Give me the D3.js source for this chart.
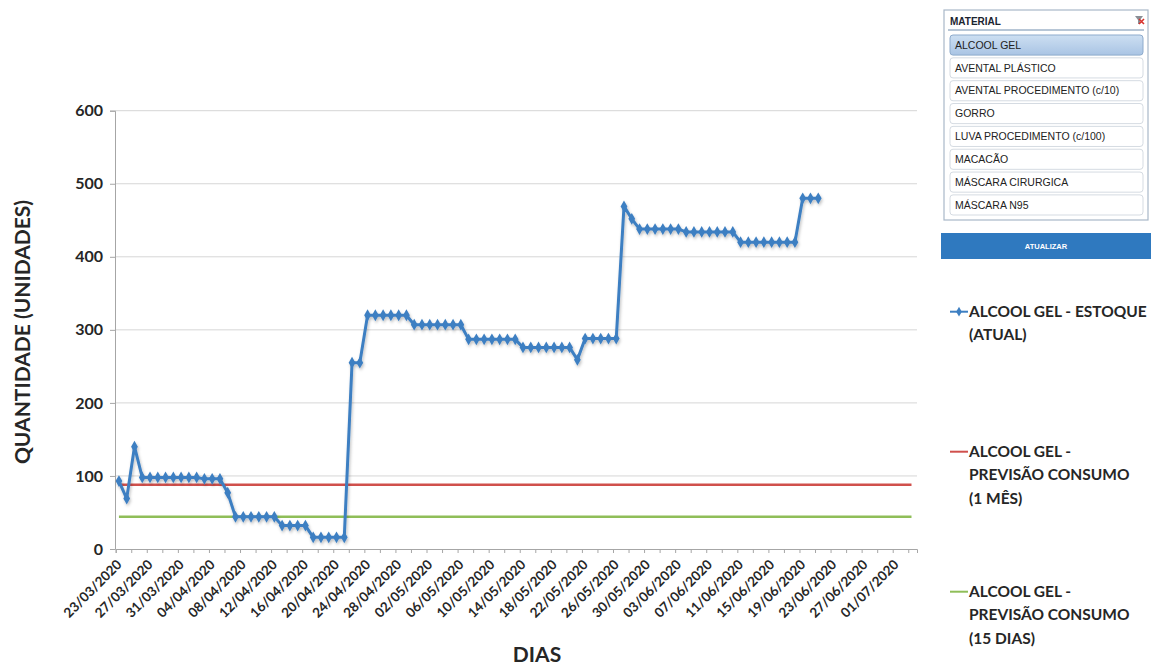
<!DOCTYPE html>
<html><head><meta charset="utf-8">
<script src="https://cdn.jsdelivr.net/npm/d3@7"></script>
<style>
body{margin:0;background:#fff;}
svg{display:block;}
</style></head><body>
<svg id="chart" width="1151" height="668"></svg>
<script>
// ---------- DATA ----------
const startDate = "23/03/2020";
const estoqueAtual = [93,69,140,98,98,98,98,98,98,98,98,96,96,96,77,
  44,44,44,44,44,44,32,32,32,32,16,16,16,16,16,
  255,255,320,320,320,320,320,320,307,307,307,307,307,307,307,
  287,287,287,287,287,287,287,276,276,276,276,276,276,276,259,
  288,288,288,288,288,469,452,438,438,438,438,438,438,
  434,434,434,434,434,434,434,420,420,420,420,420,420,420,420,480,480,480];
const previsaoMes = 88;
const previsao15 = 44;
const previsaoDias = 102;
const xTickLabels = ["23/03/2020","27/03/2020","31/03/2020","04/04/2020","08/04/2020","12/04/2020",
  "16/04/2020","20/04/2020","24/04/2020","28/04/2020","02/05/2020","06/05/2020","10/05/2020",
  "14/05/2020","18/05/2020","22/05/2020","26/05/2020","30/05/2020","03/06/2020","07/06/2020",
  "11/06/2020","15/06/2020","19/06/2020","23/06/2020","27/06/2020","01/07/2020"];
const yTicks = [0,100,200,300,400,500,600];
const materiais = ["ALCOOL GEL","AVENTAL PLÁSTICO","AVENTAL PROCEDIMENTO (c/10)","GORRO",
  "LUVA PROCEDIMENTO (c/100)","MACACÃO","MÁSCARA CIRURGICA","MÁSCARA N95"];
const seriesNames = [
  ["ALCOOL GEL - ESTOQUE","(ATUAL)"],
  ["ALCOOL GEL -","PREVISÃO CONSUMO","(1 MÊS)"],
  ["ALCOOL GEL -","PREVISÃO CONSUMO","(15 DIAS)"]
];
const colors = {estoque:"#3d7fc2", mes:"#d0504c", quinze:"#8fbe58"};

// ---------- SETUP ----------
const parse = d3.timeParse("%d/%m/%Y");
const t0 = parse(startDate);
const svg = d3.select("#chart");
const FONT = "Lato, 'Open Sans', sans-serif";

const defs = svg.append("defs");
const f = defs.append("filter").attr("id","sh").attr("x","-5%").attr("y","-5%").attr("width","110%").attr("height","115%");
f.append("feDropShadow").attr("dx",1).attr("dy",2).attr("stdDeviation",1.4).attr("flood-color","#000").attr("flood-opacity",0.25);
const g1 = defs.append("linearGradient").attr("id","sel").attr("x1",0).attr("y1",0).attr("x2",0).attr("y2",1);
g1.append("stop").attr("offset","0%").attr("stop-color","#cddff2");
g1.append("stop").attr("offset","100%").attr("stop-color","#a9c4e4");

const x = d3.scaleTime()
  .domain([t0, d3.timeHour.offset(t0, 103*24+3)])
  .range([115.7, 917]);
const y = d3.scaleLinear().domain([0,600]).range([549,110.7]);

// gridlines
svg.append("g").selectAll("line").data(yTicks.filter(v=>v>0)).join("line")
  .attr("x1",115).attr("x2",917).attr("y1",d=>y(d)).attr("y2",d=>y(d))
  .attr("stroke","#d6d6d6").attr("stroke-width",1);

// y axis
const yAxis = svg.append("g").attr("transform","translate(115,0)")
  .call(d3.axisLeft(y).tickValues(yTicks).tickSize(5).tickPadding(7));
yAxis.select(".domain").attr("stroke","#a6a6a6");
yAxis.selectAll(".tick line").attr("stroke","#a6a6a6");
yAxis.selectAll("text").attr("font-family",FONT).attr("font-weight","bold")
  .attr("font-size","16px").attr("fill","#262626");

// x axis minor ticks
const minorDates = d3.range(0, 103, 2).map(i=>d3.timeDay.offset(t0,i));
const xAxis = svg.append("g").attr("transform","translate(0,549)")
  .call(d3.axisBottom(x).tickValues(minorDates).tickSize(4).tickFormat(""));
xAxis.select(".domain").attr("stroke","#a6a6a6");
xAxis.selectAll(".tick line").attr("stroke","#a6a6a6");

// x labels
const labelDates = xTickLabels.map(parse);
const xLab = svg.append("g").attr("transform","translate(0,549)")
  .call(d3.axisBottom(x).tickValues(labelDates).tickSize(0).tickFormat((d,i)=>xTickLabels[i]));
xLab.select(".domain").remove();
xLab.selectAll("text")
  .attr("font-family",FONT).attr("font-weight","bold").attr("font-size","13.5px").attr("fill","#262626")
  .attr("text-anchor","end").attr("x",0).attr("y",0).attr("dy","0.35em")
  .attr("transform","translate(3,13) rotate(-45)");

// threshold lines
const lineFull = d3.line().x(d=>x(d.date)).y(d=>y(d.v));
const spanDates = [0, previsaoDias].map(i=>d3.timeHour.offset(d3.timeDay.offset(t0,i),10));
svg.append("path").datum(spanDates.map(dt=>({date:dt,v:previsaoMes})))
  .attr("d",lineFull).attr("stroke",colors.mes).attr("stroke-width",2.5).attr("fill","none");
svg.append("path").datum(spanDates.map(dt=>({date:dt,v:previsao15})))
  .attr("d",lineFull).attr("stroke",colors.quinze).attr("stroke-width",2.5).attr("fill","none");

// estoque line
const est = estoqueAtual.map((v,i)=>({date:d3.timeHour.offset(d3.timeDay.offset(t0,i),10), v}));
const gEst = svg.append("g").attr("filter","url(#sh)");
gEst.append("path").datum(est).attr("d",lineFull).attr("stroke",colors.estoque)
  .attr("stroke-width",3).attr("fill","none").attr("stroke-linejoin","round");
gEst.selectAll("path.m").data(est).join("path").attr("class","m")
  .attr("d",d3.symbol(d3.symbolDiamond,40))
  .attr("transform",d=>`translate(${x(d.date)},${y(d.v)})`)
  .attr("fill",colors.estoque);

// axis titles
svg.append("text").attr("transform","translate(30,332) rotate(-90)")
  .attr("text-anchor","middle").attr("font-family",FONT).attr("font-weight","bold")
  .attr("font-size","21px").attr("fill","#262626").text("QUANTIDADE (UNIDADES)");
svg.append("text").attr("x",537).attr("y",662)
  .attr("text-anchor","middle").attr("font-family",FONT).attr("font-weight","bold")
  .attr("font-size","21px").attr("fill","#262626").text("DIAS");

// legend
const legY = [311.7, 451.7, 591.7];
const legCol = [colors.estoque, colors.mes, colors.quinze];
const leg = svg.append("g");
seriesNames.forEach((lines,k)=>{
  leg.append("line").attr("x1",950).attr("x2",968).attr("y1",legY[k]).attr("y2",legY[k])
    .attr("stroke",legCol[k]).attr("stroke-width",2);
  if(k===0) leg.append("path").attr("d",d3.symbol(d3.symbolDiamond,28))
    .attr("transform",`translate(959,${legY[k]})`).attr("fill",legCol[k]);
  const t = leg.append("text").attr("font-family",FONT).attr("font-weight","bold")
    .attr("font-size","15.5px").attr("fill","#262626");
  lines.forEach((s,j)=>{
    t.append("tspan").attr("x",969).attr("y",legY[k]+j*23.3).attr("dy","0.35em").text(s);
  });
});

// slicer
const sl = svg.append("g");
sl.append("rect").attr("x",944).attr("y",10).attr("width",204).attr("height",210)
  .attr("fill","#fff").attr("stroke","#a9b8c8").attr("stroke-width",1.2);
sl.append("text").attr("x",950).attr("y",21).attr("dy","0.35em")
  .attr("font-family","'Liberation Sans', Arial, sans-serif").attr("font-weight","bold")
  .attr("font-size","10px").attr("fill","#1b2430").text("MATERIAL");
sl.append("line").attr("x1",948).attr("x2",1144).attr("y1",30).attr("y2",30)
  .attr("stroke","#9fb3c8").attr("stroke-width",1.5);
// filter icon
sl.append("path").attr("d","M1135,16 L1143,16 L1140,20 L1140,24 L1138,24 L1138,20 Z").attr("fill","#8a8f96");
sl.append("path").attr("d","M1139,19 L1144,24 M1144,19 L1139,24").attr("stroke","#d8322c").attr("stroke-width",1.6);
const rowY = d3.scaleBand().domain(materiais).range([35,215]).paddingInner(0.12).paddingOuter(0);
materiais.forEach((m,i)=>{
  sl.append("rect").attr("x",950).attr("y",rowY(m)).attr("width",193).attr("height",rowY.bandwidth())
    .attr("rx",3).attr("fill",i===0?"url(#sel)":"#fff").attr("stroke",i===0?"#8eabcc":"#d5dbe2");
  sl.append("text").attr("x",955).attr("y",rowY(m)+rowY.bandwidth()/2).attr("dy","0.35em")
    .attr("font-family","'Liberation Sans Narrow', 'Liberation Sans', Arial, sans-serif")
    .attr("font-size","10.5px").attr("fill","#222").text(m);
});
sl.append("rect").attr("x",941).attr("y",233).attr("width",210).attr("height",26).attr("fill","#2f79bf");
sl.append("text").attr("x",1046).attr("y",246).attr("dy","0.35em").attr("text-anchor","middle")
  .attr("font-family","'Liberation Sans', Arial, sans-serif").attr("font-weight","bold")
  .attr("font-size","7.5px").attr("fill","#fff").text("ATUALIZAR");
</script>
</body></html>
